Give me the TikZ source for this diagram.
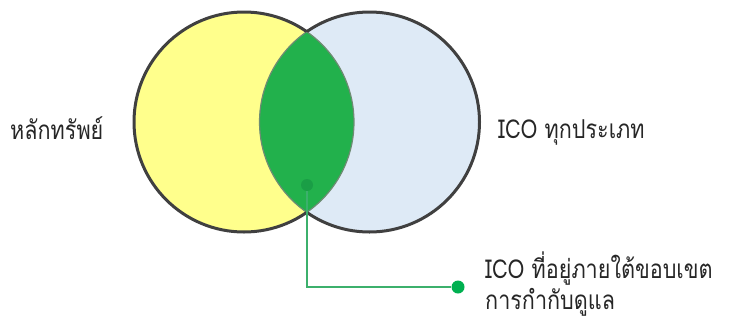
\documentclass[tikz,border=0pt]{standalone}
\usepackage{fontspec}
\setmainfont[Script=Thai, FakeStretch=0.83]{Loma}
\definecolor{setyellow}{RGB}{255,255,140}
\definecolor{setblue}{RGB}{222,234,246}
\definecolor{lensgreen}{RGB}{34,177,76}
\definecolor{ringgray}{RGB}{64,64,64}
\definecolor{lensedge}{RGB}{110,140,115}
\definecolor{leadgreen}{RGB}{60,176,108}
\definecolor{dotgreen}{RGB}{0,176,80}
\definecolor{innerdot}{RGB}{26,158,70}
\definecolor{textgray}{RGB}{38,38,38}
\begin{document}
\begin{tikzpicture}[x=1pt,y=-1pt,
  setring/.style={circle, minimum size=220pt, inner sep=0pt},
  settext/.style={anchor=base west, inner sep=0pt, text=textgray,
    font=\fontsize{26}{30}\selectfont},
  dotmark/.style={circle, inner sep=0pt, minimum size=#1},
  leader/.style={leadgreen, line width=1.3pt},
  outline/.style={ringgray, line width=3pt}]
\useasboundingbox (0,0) rectangle (733,322);

% the two sets
\node[setring, fill=setyellow] (L) at (244,122) {};
\node[setring, fill=setblue]   (R) at (369.5,122) {};

% overlap of the sets
\begin{scope}
  \clip (L.center) circle[radius=110pt];
  \fill[lensgreen] (R.center) circle[radius=110pt];
  \draw[lensedge, line width=1.2pt] (R.center) circle[radius=110pt];
\end{scope}
\begin{scope}
  \clip (R.center) circle[radius=110pt];
  \draw[lensedge, line width=1.2pt] (L.center) circle[radius=110pt];
\end{scope}

% outer rims, drawn only outside the other set
\begin{scope}[even odd rule]
  \clip (0,0) rectangle (733,322) (R.center) circle[radius=110pt];
  \draw[outline] (L.center) circle[radius=110pt];
\end{scope}
\begin{scope}[even odd rule]
  \clip (0,0) rectangle (733,322) (L.center) circle[radius=110pt];
  \draw[outline] (R.center) circle[radius=110pt];
\end{scope}

% set labels
\node[settext] (secLabel) at (10,139) {หลักทรัพย์};
\node[settext] (icoLabel) at (498,138) {ICO ทุกประเภท};

% callout for the overlap
\node[dotmark=12pt, fill=innerdot] (d1) at (307,185) {};
\node[dotmark=13pt, fill=dotgreen] (d2) at (458,287) {};
\draw[leader] (d1.south) |- (d2.west);

\node[settext] (reg1) at (485,278) {ICO ที่อยู่ภายใต้ขอบเขต};
\node[settext] (reg2) at (485,309) {การกำกับดูแล};
\end{tikzpicture}
\end{document}
